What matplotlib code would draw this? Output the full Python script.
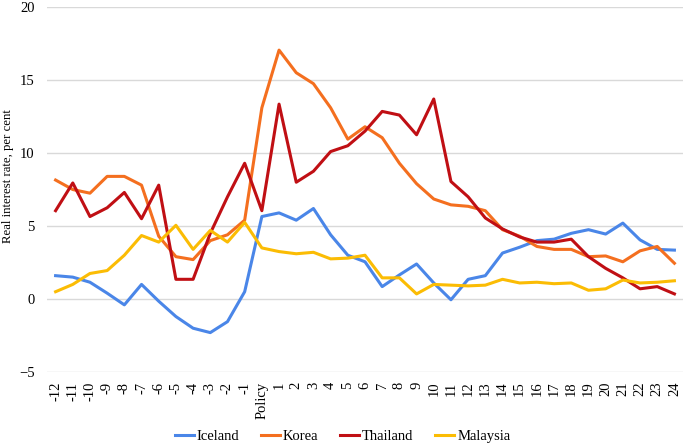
import numpy as np
import matplotlib
matplotlib.use('Agg')
import matplotlib.pyplot as plt

plt.rcParams['font.family'] = ['Liberation Serif', 'DejaVu Serif']

# miesiace wzgledem zmiany polityki
labels = [str(i) for i in range(-12, 0)] + ['Policy'] + [str(i) for i in range(1, 25)]

iceland = [1.6, 1.5, 1.15, 0.4, -0.4, 1.0, -0.15, -1.2, -2.0, -2.3, -1.55, 0.5,
           5.65, 5.9, 5.4, 6.2, 4.4, 3.0, 2.55, 0.85, 1.65, 2.4, 1.1, -0.05, 1.35,
           1.6, 3.15, 3.55, 4.0, 4.1, 4.5, 4.75, 4.45, 5.2, 4.05, 3.4, 3.35]
korea = [8.15, 7.5, 7.25, 8.4, 8.4, 7.8, 4.3, 2.9, 2.7, 4.0, 4.4, 5.4,
         13.1, 17.05, 15.5, 14.75, 13.1, 10.95, 11.8, 11.05, 9.3, 7.9, 6.85, 6.45, 6.35,
         6.05, 4.75, 4.3, 3.6, 3.4, 3.4, 2.9, 2.95, 2.55, 3.3, 3.6, 2.45]
thailand = [6.05, 7.95, 5.65, 6.25, 7.3, 5.5, 7.8, 1.35, 1.35, 4.5, 7.0, 9.3,
            6.05, 13.35, 8.0, 8.75, 10.1, 10.5, 11.5, 12.85, 12.6, 11.25, 13.7, 8.05, 7.0,
            5.55, 4.8, 4.25, 3.9, 3.9, 4.1, 2.9, 2.1, 1.45, 0.7, 0.85, 0.35]
malaysia = [0.5, 1.0, 1.75, 1.95, 3.0, 4.35, 3.9, 5.05, 3.4, 4.7, 3.9, 5.25,
            3.5, 3.25, 3.1, 3.2, 2.75, 2.8, 3.0, 1.45, 1.45, 0.35, 1.0, 0.95, 0.9,
            0.95, 1.35, 1.1, 1.15, 1.05, 1.1, 0.6, 0.7, 1.3, 1.1, 1.15, 1.25]

x = np.arange(len(labels))

fig = plt.figure(figsize=(6.85, 4.48), dpi=100)
ax = fig.add_axes([0.0686, 0.1696, 0.9285, 0.8147])

ax.plot(x, iceland, label='Iceland', color='#4a86e8', lw=2.2)
ax.plot(x, korea, label='Korea', color='#f46f1f', lw=2.2)
ax.plot(x, thailand, label='Thailand', color='#c00f14', lw=2.2)
ax.plot(x, malaysia, label='Malaysia', color='#fbbc04', lw=2.2)

ax.set_ylim(-5, 20)
ax.set_xlim(-0.5, len(labels) - 0.5)
ax.set_yticks(np.arange(-5, 21, 5))
ax.set_xticks(x)
ax.set_xticklabels(labels, rotation=90, fontsize=10.5)
ax.tick_params(axis='y', labelsize=10.5, length=0, pad=9)
ax.tick_params(axis='x', length=0, pad=7)
ax.grid(axis='y', color='#d9d9d9', lw=1)
ax.set_axisbelow(True)
for s in ax.spines.values():
    s.set_visible(False)

fig.text(0.012, 0.607, 'Real interest rate, per cent', rotation=90,
         ha='center', va='center', fontsize=9.2)

fig.legend(loc='center', bbox_to_anchor=(0.5, 0.026), ncol=4, frameon=False,
           fontsize=10.5, handlelength=1.3, handletextpad=0.2, columnspacing=1.5)

fig.savefig('out.png', dpi=100)
